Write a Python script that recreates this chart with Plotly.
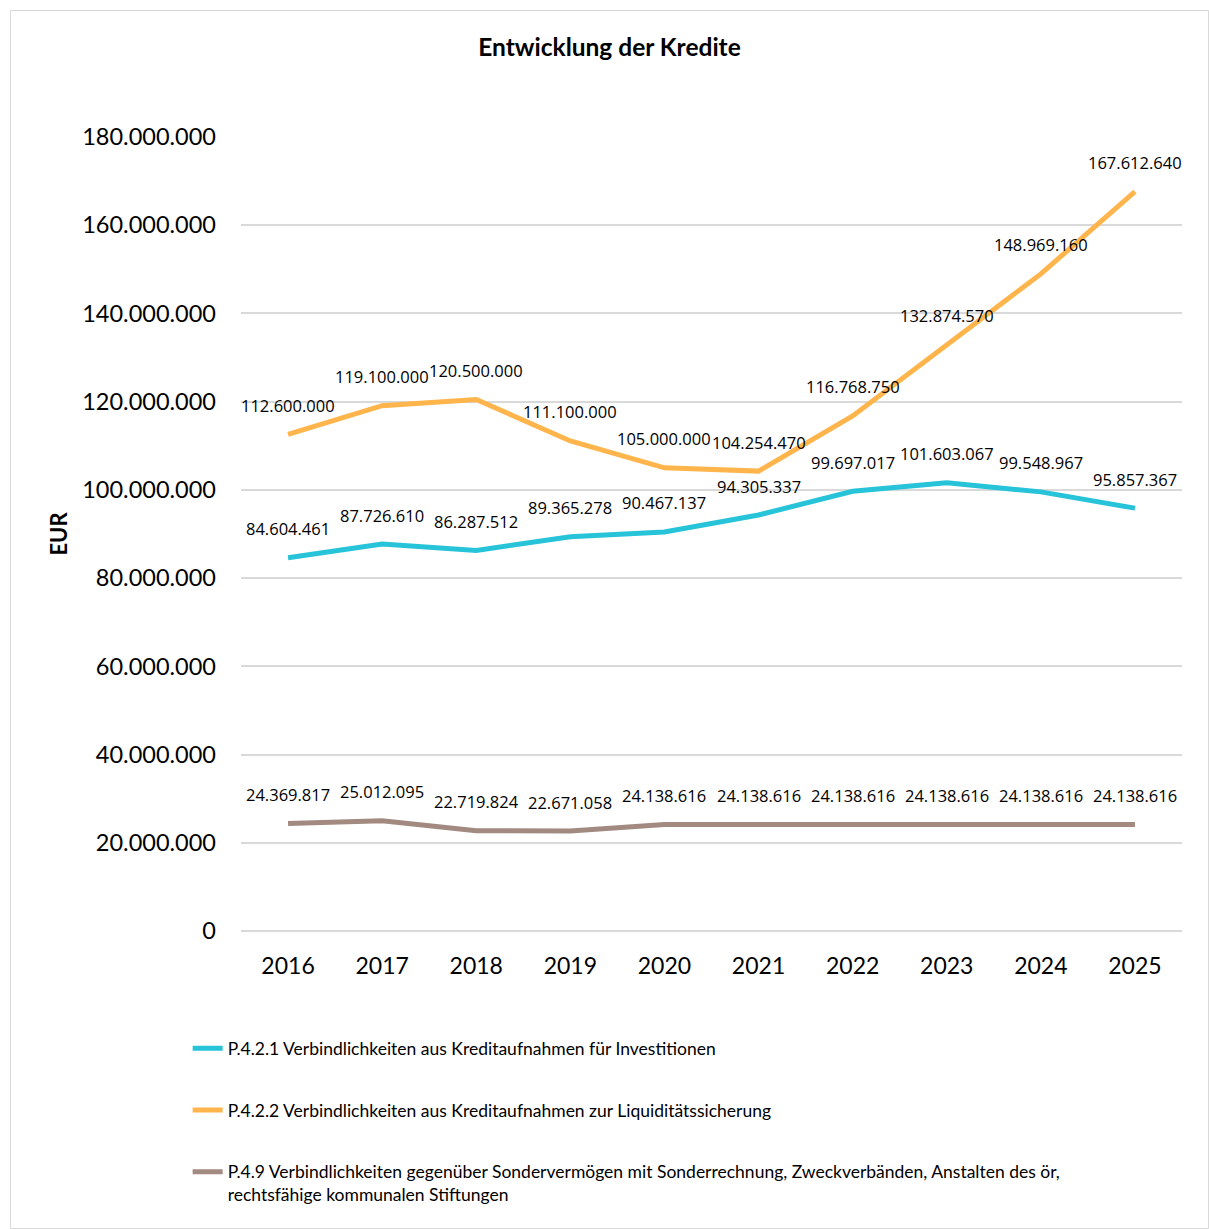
import plotly.graph_objects as go

# Jahre und Kreditstände (EUR)
years = ["2016", "2017", "2018", "2019", "2020", "2021", "2022", "2023", "2024", "2025"]

investitionen = [84604461, 87726610, 86287512, 89365278, 90467137,
                 94305337, 99697017, 101603067, 99548967, 95857367]
liquiditaet = [112600000, 119100000, 120500000, 111100000, 105000000,
               104254470, 116768750, 132874570, 148969160, 167612640]
sondervermoegen = [24369817, 25012095, 22719824, 22671058, 24138616,
                   24138616, 24138616, 24138616, 24138616, 24138616]

series_names = [
    "P.4.2.1 Verbindlichkeiten aus Kreditaufnahmen für Investitionen",
    "P.4.2.2 Verbindlichkeiten aus Kreditaufnahmen zur Liquiditätssicherung",
    "P.4.9 Verbindlichkeiten gegenüber Sondervermögen mit Sonderrechnung, Zweckverbänden, Anstalten des ör,<br>rechtsfähige kommunalen Stiftungen",
]
series_values = [investitionen, liquiditaet, sondervermoegen]
series_colors = ["#27C3D8", "#FFB54C", "#A38A80"]

AXIS_FONT = "Lato"
LABEL_FONT = "Open Sans"


def de_format(v):
    return f"{v:,}".replace(",", ".")


fig = go.Figure()
annotations = []

for i, (name, vals, col) in enumerate(zip(series_names, series_values, series_colors)):
    fig.add_trace(go.Scatter(
        x=years, y=vals, mode="lines", name=name,
        line=dict(color=col, width=5),
        legendgroup=f"g{i}",
        hoverinfo="x+y",
    ))
    # value labels above each point (category index as x position)
    for xi, v in enumerate(vals):
        annotations.append(dict(
            x=xi, y=v, xref="x", yref="y", text=de_format(v),
            showarrow=False, yshift=29, yanchor="middle", xanchor="center",
            font=dict(family=LABEL_FONT, size=16.5, color="#000000"),
        ))

fig.update_layout(
    width=1209, height=1229,
    margin=dict(l=241, r=27, t=137, b=298),
    paper_bgcolor="white", plot_bgcolor="white",
    separators=",.",
    title=dict(
        text="<b>Entwicklung der Kredite</b>",
        x=609.5 / 1209, xanchor="center", xref="container",
        y=1 - 47 / 1229, yanchor="middle", yref="container",
        font=dict(family=AXIS_FONT, size=24.5, color="#000000"),
    ),
    xaxis=dict(
        type="category", range=[-0.5, len(years) - 0.5],
        showgrid=False, showline=False, zeroline=False,
        ticks="", ticklabelstandoff=19,
        tickfont=dict(family=AXIS_FONT, size=23, color="#000000"),
    ),
    yaxis=dict(
        range=[0, 180000000], dtick=20000000, tickformat=",.0f",
        showgrid=True, gridcolor="#D9D9D9", gridwidth=1.5,
        zeroline=True, zerolinecolor="#D9D9D9", zerolinewidth=1.5,
        showline=False, ticks="", ticklabelstandoff=24,
        tickfont=dict(family=AXIS_FONT, size=23.5, color="#000000"),
        title=dict(text="<b>EUR</b>", standoff=8,
                   font=dict(family=AXIS_FONT, size=22, color="#000000")),
    ),
    showlegend=True,
    legend=dict(
        x=-0.0567, xanchor="left", y=-0.125, yanchor="top",
        orientation="v", tracegroupgap=36, valign="top",
        font=dict(family=AXIS_FONT, size=17.5, color="#000000"),
        bgcolor="rgba(0,0,0,0)",
    ),
    annotations=annotations,
    shapes=[dict(
        type="rect", xref="paper", yref="paper",
        x0=(10.5 - 241) / 941, x1=(1208.5 - 241) / 941,
        y0=(931 - 1228.5) / 794, y1=(931 - 10.5) / 794,
        line=dict(color="#D9D9D9", width=1), fillcolor="rgba(0,0,0,0)",
        layer="below",
    )],
)

fig.write_html("out.html")
